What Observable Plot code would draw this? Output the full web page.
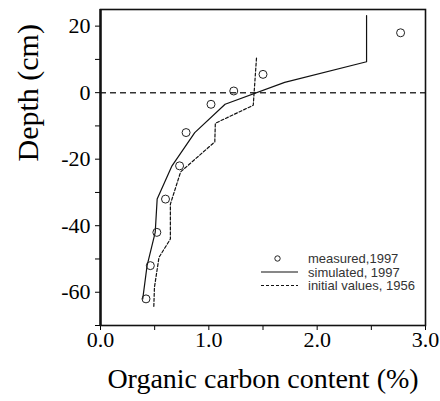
<!DOCTYPE html>
<html>
<head>
<meta charset="utf-8">
<script src="https://cdn.jsdelivr.net/npm/d3@7"></script>
<script src="https://cdn.jsdelivr.net/npm/@observablehq/plot@0.6"></script>
<style>
  html, body { margin: 0; padding: 0; background: #fff; }
  #wrap { position: relative; width: 440px; height: 401px; }
  #legend { position: absolute; left: 0; top: 0; pointer-events: none; }
</style>
</head>
<body>
<div id="wrap"></div>
<script>
// Measured organic carbon, 1997
const measuredDepth = [18, 5.5, 0.5, -3.5, -12, -22, -32, -42, -52, -62];
const measuredOC    = [2.77, 1.50, 1.23, 1.02, 0.79, 0.73, 0.60, 0.52, 0.46, 0.42];

// Simulated profile, 1997
const simulatedDepth = [23.2, 9.3, 3.1, -3.5, -12, -22, -32, -42, -52, -62];
const simulatedOC    = [2.456, 2.456, 1.70, 1.15, 0.87, 0.66, 0.523, 0.505, 0.43, 0.39];

// Initial values, 1956
const initialDepth = [10.4, -3.8, -9.2, -14.8, -23.8, -33.5, -44, -49.5, -58.5, -64.5];
const initialOC    = [1.44, 1.41, 1.06, 1.055, 0.74, 0.645, 0.645, 0.54, 0.498, 0.492];

// Axis ticks
const xMajorTicks = [0, 1, 2, 3];
const xMinorTicks = [0.5, 1.5, 2.5];
const yMajorTicks = [-60, -40, -20, 0, 20];
const yMinorTicks = [-70, -50, -30, -10, 10];

const xTitle = "Organic carbon content (%)";
const yTitle = "Depth (cm)";
const legendLabels = ["measured,1997", "simulated, 1997", "initial values, 1956"];

const measured = measuredDepth.map((d, i) => ({depth: d, oc: measuredOC[i]}));
const simulated = simulatedDepth.map((d, i) => ({depth: d, oc: simulatedOC[i]}));
const initial = initialDepth.map((d, i) => ({depth: d, oc: initialOC[i]}));

const serif = "'Liberation Serif', 'Times New Roman', Times, serif";

const chart = Plot.plot({
  width: 440,
  height: 401,
  marginLeft: 100,
  marginRight: 15,
  marginTop: 9,
  marginBottom: 76,
  style: {fontFamily: serif, fontSize: "22px", color: "#000", background: "#fff"},
  x: {domain: [0, 3]},
  y: {domain: [-70, 25]},
  marks: [
    Plot.ruleY([0], {stroke: "#333", strokeWidth: 1.5, strokeDasharray: "6,4"}),
    Plot.line(initial, {x: "oc", y: "depth", stroke: "#111", strokeWidth: 1.2, strokeDasharray: "3,2"}),
    Plot.line(simulated, {x: "oc", y: "depth", stroke: "#111", strokeWidth: 1.2}),
    Plot.dot(measured, {x: "oc", y: "depth", r: 4, stroke: "#222", strokeWidth: 1, fill: "none"}),
    Plot.axisX(xMajorTicks, {tickSize: 5, tickPadding: 1, tickFormat: d => d.toFixed(1), label: null, fontSize: 22, fontFamily: serif, fill: "#000"}),
    Plot.axisX(xMinorTicks, {tickSize: 5, text: null, label: null}),
    Plot.axisY(yMajorTicks, {tickSize: 5, tickPadding: 5, tickFormat: d => String(d), label: null, fontSize: 22, fontFamily: serif, fill: "#000"}),
    Plot.axisY(yMinorTicks, {tickSize: 5, text: null, label: null}),
    Plot.frame({stroke: "#111", strokeWidth: 1.6}),
    Plot.ruleX([0], {stroke: "#111", strokeWidth: 2.4}),
    Plot.text([xTitle], {frameAnchor: "bottom", dy: 62, fontSize: 28, fill: "#000", fontFamily: serif}),
    Plot.text([yTitle], {frameAnchor: "left", dx: -72, dy: -6, rotate: -90, fontSize: 30, fill: "#000", fontFamily: serif})
  ]
});

// force serif on every chart text (inline style wins over any stylesheet)
chart.querySelectorAll("text").forEach(t => {
  t.style.fontFamily = serif;
  t.style.fontVariant = "normal";
});

const wrap = document.getElementById("wrap");
wrap.appendChild(chart);

// Legend overlay
const lg = d3.select(wrap).append("svg")
  .attr("id", "legend")
  .attr("width", 440).attr("height", 401)
  .style("font-family", "'Liberation Sans', Arial, Helvetica, sans-serif")
  .style("font-size", "13px");

const rowY = [258.5, 272, 285.5];
const swX0 = 261, swX1 = 298, txtX = 308;

lg.append("circle").attr("cx", (swX0 + swX1) / 2 - 2).attr("cy", rowY[0])
  .attr("r", 2.7).attr("fill", "none").attr("stroke", "#222").attr("stroke-width", 1);
lg.append("line").attr("x1", swX0).attr("x2", swX1).attr("y1", rowY[1]).attr("y2", rowY[1])
  .attr("stroke", "#111").attr("stroke-width", 1.1);
lg.append("line").attr("x1", swX0).attr("x2", swX1).attr("y1", rowY[2]).attr("y2", rowY[2])
  .attr("stroke", "#111").attr("stroke-width", 1.1).attr("stroke-dasharray", "3,2");

lg.selectAll("text.lab").data(legendLabels).join("text")
  .attr("class", "lab")
  .attr("x", txtX)
  .attr("y", (d, i) => rowY[i])
  .attr("dy", "0.35em")
  .attr("fill", "#333")
  .text(d => d);
</script>
</body>
</html>
